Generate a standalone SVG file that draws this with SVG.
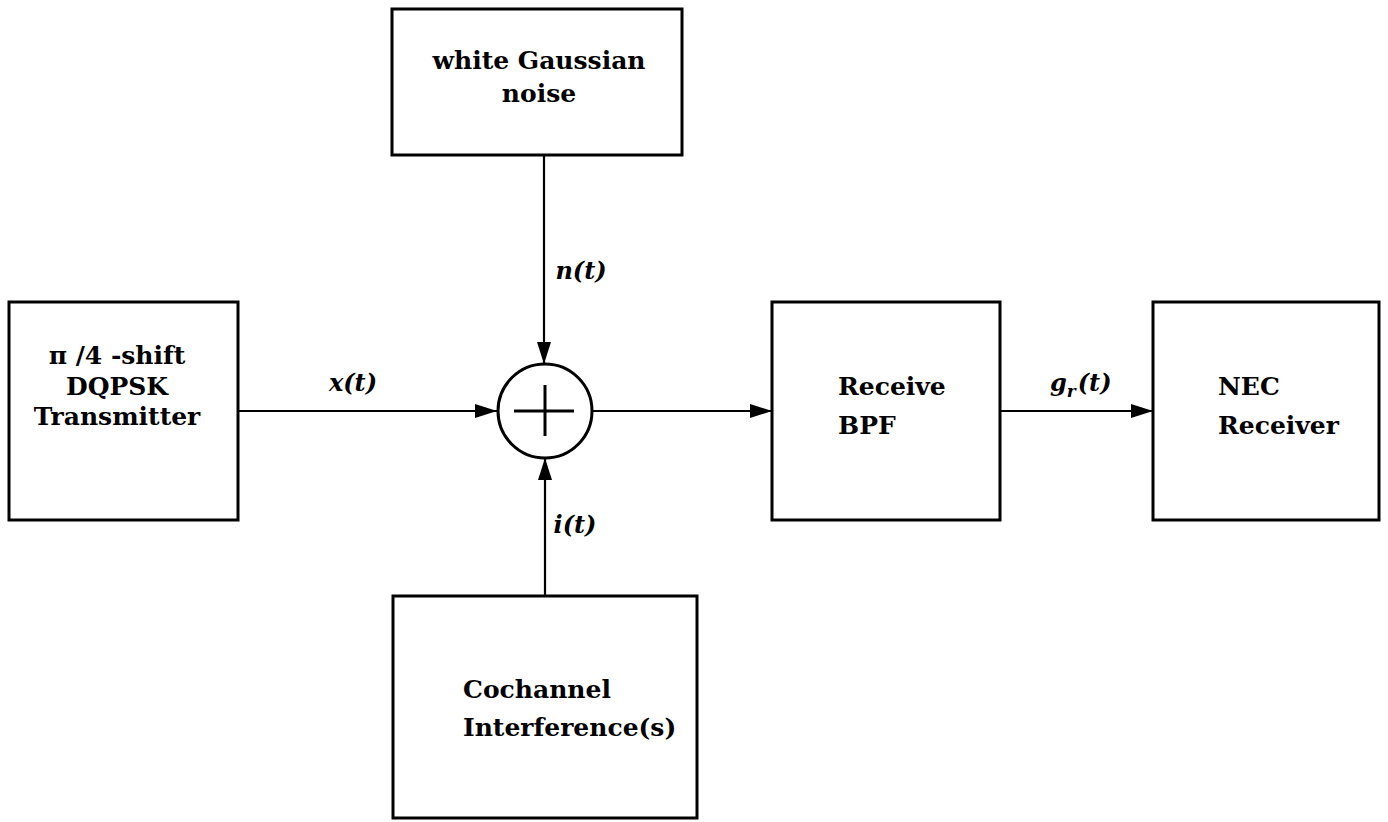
<svg xmlns="http://www.w3.org/2000/svg" width="1388" height="822" viewBox="0 0 1388 822">
<style>
.box{fill:#fff;stroke:#000;stroke-width:3}
.lbl{font-family:"DejaVu Serif","Liberation Serif",serif;font-weight:bold;font-size:25px;fill:#000}
.sig{font-family:"DejaVu Serif","Liberation Serif",serif;font-weight:bold;font-style:italic;font-size:24px;fill:#000}
.wire{fill:none;stroke:#000;stroke-width:2.2}
</style>
<defs>
<marker id="ah" viewBox="0 0 22 16" refX="22" refY="8" markerWidth="22" markerHeight="16" markerUnits="userSpaceOnUse" orient="auto">
<path d="M0,1 L22,8 L0,15 Z" fill="#000"/>
</marker>
</defs>
<rect width="1388" height="822" fill="#fff"/>
<g id="connectors">
<line class="wire" x1="238" y1="411" x2="497" y2="411" marker-end="url(#ah)"/>
<line class="wire" x1="544" y1="155" x2="544" y2="364" marker-end="url(#ah)"/>
<line class="wire" x1="545" y1="596" x2="545" y2="458" marker-end="url(#ah)"/>
<line class="wire" x1="592" y1="411" x2="772" y2="411" marker-end="url(#ah)"/>
<line class="wire" x1="1000" y1="411" x2="1153" y2="411" marker-end="url(#ah)"/>
<text class="sig" x="353" y="391" text-anchor="middle">x(t)</text>
<text class="sig" x="581" y="279" text-anchor="middle">n(t)</text>
<text class="sig" x="575" y="533" text-anchor="middle">i(t)</text>
<text class="sig" x="1050" y="391">g<tspan font-size="17" dy="6">r</tspan><tspan dy="-6" dx="2">(t)</tspan></text>
</g>
<g id="transmitter">
<rect class="box" x="9" y="302" width="229" height="218"/>
<text class="lbl" x="117" y="364" text-anchor="middle">π /4 -shift</text>
<text class="lbl" x="117" y="395" text-anchor="middle">DQPSK</text>
<text class="lbl" x="117" y="425" text-anchor="middle">Transmitter</text>
</g>
<g id="noise">
<rect class="box" x="392" y="9" width="290" height="146"/>
<text class="lbl" x="539" y="69" text-anchor="middle">white Gaussian</text>
<text class="lbl" x="539" y="102" text-anchor="middle">noise</text>
</g>
<g id="adder">
<circle cx="545" cy="411" r="47" fill="#fff" stroke="#000" stroke-width="3"/>
<line x1="514" y1="411" x2="574" y2="411" stroke="#000" stroke-width="3"/>
<line x1="545" y1="385" x2="545" y2="436" stroke="#000" stroke-width="3"/>
</g>
<g id="interference">
<rect class="box" x="393" y="596" width="304" height="222"/>
<text class="lbl" x="463" y="698">Cochannel</text>
<text class="lbl" x="463" y="736">Interference(s)</text>
</g>
<g id="bpf">
<rect class="box" x="772" y="302" width="228" height="218"/>
<text class="lbl" x="838" y="395">Receive</text>
<text class="lbl" x="838" y="434">BPF</text>
</g>
<g id="receiver">
<rect class="box" x="1153" y="302" width="226" height="218"/>
<text class="lbl" x="1218" y="395">NEC</text>
<text class="lbl" x="1218" y="434">Receiver</text>
</g>
</svg>
